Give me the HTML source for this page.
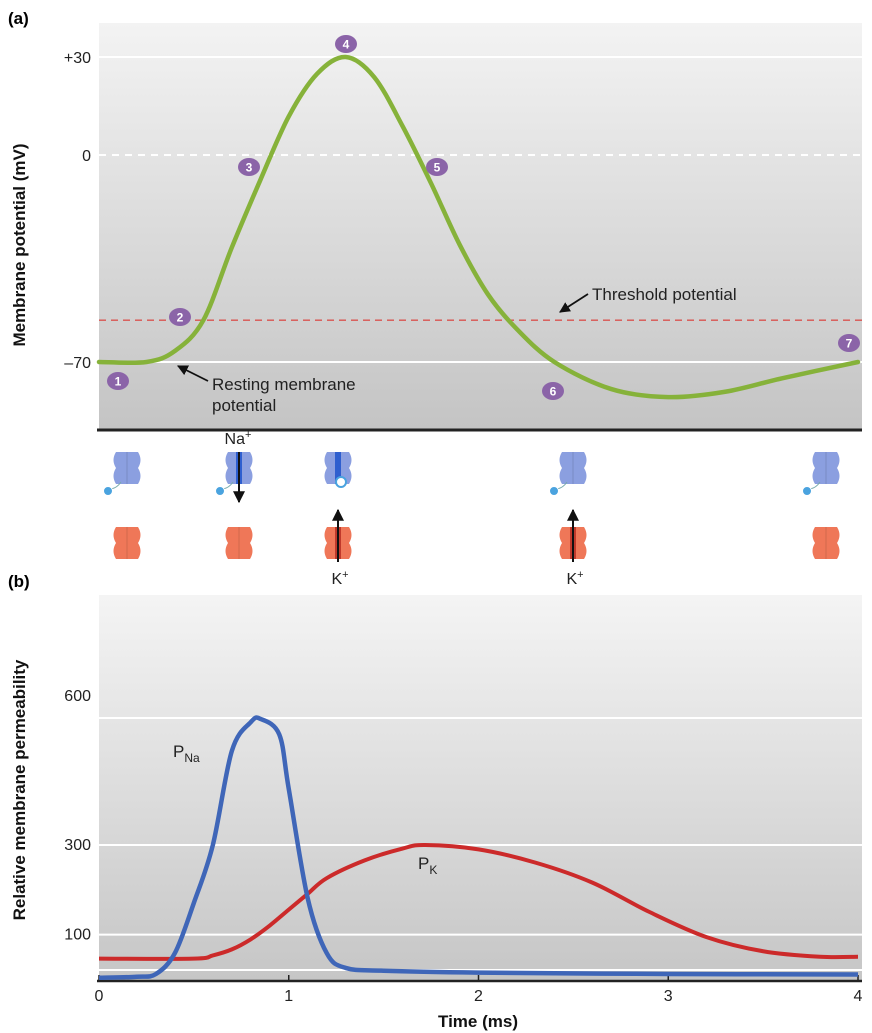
<!DOCTYPE html>
<html><head><meta charset="utf-8"><style>
html,body{margin:0;padding:0;background:#fff;}
svg{display:block;font-family:"Liberation Sans",sans-serif;}
</style></head><body>
<svg id="chart" width="872" height="1033" viewBox="0 0 872 1033">
<defs>
<linearGradient id="ga" x1="0" y1="0" x2="0" y2="1"><stop offset="0" stop-color="#f3f3f3"/><stop offset="1" stop-color="#c4c4c4"/></linearGradient>
<linearGradient id="gb" x1="0" y1="0" x2="0" y2="1"><stop offset="0" stop-color="#f4f4f4"/><stop offset="1" stop-color="#c6c6c6"/></linearGradient>
<marker id="ar" viewBox="0 0 10 10" refX="9" refY="5" markerWidth="6" markerHeight="6" orient="auto"><path d="M0,0L10,5L0,10z" fill="#111"/></marker>
</defs>
<g id="pa"></g>
<g id="ch"></g>
<g id="pb"></g>
</svg>
<script>
// Panel (a) data
const vTimes = [0, 0.25, 0.4, 0.55, 0.7, 0.85, 1.0, 1.15, 1.3, 1.45, 1.6, 1.75, 1.9, 2.05, 2.2, 2.4, 2.7, 3.0, 3.3, 3.6, 4.0];
const vValues = [-70, -70, -66, -55, -30, -8, 12, 25, 30, 24, 9, -9, -29, -46, -58, -70, -80, -83, -81, -76, -70];
const vTicks = [30, 0, -70];
const vTickLabels = ["+30", "0", "\u201370"];
const threshold = -55;
const markerNums = ["1","2","3","4","5","6","7"];
// Panel (b) data
const pTimes = [0, 0.2, 0.3, 0.4, 0.5, 0.6, 0.7, 0.8, 0.85, 0.95, 1.0, 1.1, 1.2, 1.3, 1.5, 2.0, 3.0, 4.0];
const pNa = [7, 9, 15, 60, 170, 300, 520, 590, 598, 560, 430, 180, 60, 28, 22, 18, 15, 14];
const kTimes = [0, 0.5, 0.6, 0.7, 0.8, 0.9, 1.0, 1.1, 1.2, 1.4, 1.6, 1.72, 2.0, 2.3, 2.6, 2.9, 3.2, 3.5, 3.8, 4.0];
const pK = [48, 48, 55, 68, 90, 120, 155, 190, 225, 265, 292, 300, 290, 260, 215, 150, 95, 64, 52, 52];
const pTicks = [100, 300, 600];
const xTicks = [0, 1, 2, 3, 4];

const NS = "http://www.w3.org/2000/svg";
function mk(parent, tag, attrs, text) {
  const e = document.createElementNS(NS, tag);
  for (const k in attrs) e.setAttribute(k, attrs[k]);
  if (text !== undefined) e.textContent = text;
  parent.appendChild(e);
  return e;
}
const X = t => 99 + t * 189.75;
const Ya = v => 155 - 3.174 * v - 0.0031 * v * v;
const Yb = p => 981 - 0.4683 * p + 0.00005 * p * p;
function smooth(pts) {
  let d = "M" + pts[0][0] + "," + pts[0][1];
  for (let i = 0; i < pts.length - 1; i++) {
    const p0 = pts[Math.max(0,i-1)], p1 = pts[i], p2 = pts[i+1], p3 = pts[Math.min(pts.length-1,i+2)];
    const c1 = [p1[0] + (p2[0]-p0[0])/6, p1[1] + (p2[1]-p0[1])/6];
    const c2 = [p2[0] - (p3[0]-p1[0])/6, p2[1] - (p3[1]-p1[1])/6];
    d += " C" + c1 + " " + c2 + " " + p2;
  }
  return d;
}

// ---- Panel A ----
const pa = document.getElementById("pa");
let t = mk(pa, "text", {x: 8, y: 24, "font-size": 17, "font-weight": "bold"}, "(a)");


let r = mk(pa, "rect", {x: 99, y: 23, width: 763, height: 407, fill: "url(#ga)"});


vTicks.forEach((v, i) => {
  const y = Ya(v);
  const g = mk(pa, "line", {x1: 99, x2: 862, y1: y, y2: y, stroke: "#fff", "stroke-width": 2, "stroke-dasharray": v === 0 ? "7,6" : "none"});
  
  
  const l = mk(pa, "text", {x: 91, y: y + 6, "text-anchor": "end", "font-size": 16, fill: "#222"}, vTickLabels[i]);
  
  
});
let th = mk(pa, "line", {x1: 99, x2: 862, y1: Ya(threshold), y2: Ya(threshold), stroke: "#d9534f", "stroke-width": 1.3, "stroke-dasharray": "7,5"});


let ax = mk(pa, "line", {x1: 97, x2: 862, y1: 430, y2: 430, stroke: "#222", "stroke-width": 3});


let yt = mk(pa, "text", {x: 0, y: 0, transform: "translate(25,245) rotate(-90)", "text-anchor": "middle", "font-size": 17, "font-weight": "bold", fill: "#111"}, "Membrane potential (mV)");


let vp = mk(pa, "path", {d: smooth(vTimes.map((tt, i) => [X(tt), Ya(vValues[i])])), fill: "none", stroke: "#86b23a", "stroke-width": 4.5, "stroke-linecap": "round"});


// annotations
let a1 = mk(pa, "line", {x1: 208, y1: 381, x2: 178, y2: 366, stroke: "#111", "stroke-width": 1.8, "marker-end": "url(#ar)"});


let rt = mk(pa, "text", {x: 188, y: 390, "font-size": 17, fill: "#222"});


mk(rt, "tspan", {x: 212, dy: 0}, "Resting membrane");
mk(rt, "tspan", {x: 212, dy: 21}, "potential");
let a2 = mk(pa, "line", {x1: 588, y1: 294, x2: 560, y2: 312, stroke: "#111", "stroke-width": 1.8, "marker-end": "url(#ar)"});


let tt2 = mk(pa, "text", {x: 592, y: 300, "font-size": 17, fill: "#222"}, "Threshold potential");


const markerPos = [[118,381],[180,317],[249,167],[346,44],[437,167],[553,391],[849,343]];
markerNums.forEach((n, i) => {
  const g = mk(pa, "g", {});
  
  
  mk(g, "ellipse", {cx: markerPos[i][0], cy: markerPos[i][1], rx: 11, ry: 9, fill: "#8b64a8"});
  mk(g, "text", {x: markerPos[i][0], y: markerPos[i][1] + 4.5, "text-anchor": "middle", "font-size": 12, "font-weight": "bold", fill: "#fff"}, n);
});

// ---- Channels ----
const ch = document.getElementById("ch");
function chan(cx, cy, fill, dark, name) {
  const g = mk(ch, "g", {});
  
  
  mk(g, "path", {d: `M${cx-11},${cy-16} q-5,8 0,16 q-5,8 0,16 h22 q5,-8 0,-16 q5,-8 0,-16 z`, fill: fill});
  if (dark) mk(g, "rect", {x: cx-3, y: cy-16, width: 6, height: 32, fill: dark});
  else mk(g, "line", {x1: cx, y1: cy-16, x2: cx, y2: cy+16, stroke: "rgba(0,0,0,0.12)"});
  return g;
}
const chanX = [127, 239, 338, 573, 826];
chanX.forEach((cx, i) => {
  const g = chan(cx, 468, "#8b9fe0", i === 1 || i === 2 ? "#2f5fcf" : null, "na-channel");
  if (i === 2) mk(g, "circle", {cx: cx+3, cy: 482, r: 5, fill: "#fff", stroke: "#4aa3df", "stroke-width": 2});
  else { mk(g, "path", {d: `M${cx-6},482 q-4,6 -10,7`, stroke: "#7aa", fill: "none"}); mk(g, "circle", {cx: cx-19, cy: 491, r: 4.5, fill: "#4aa3df", stroke: "#fff"}); }
  chan(cx, 543, "#ef7758", i === 2 || i === 3 ? "#c0392b" : null, "k-channel");
});
[[239,452,239,502,"na-flow-arrow"],[338,562,338,510,"k-flow-arrow"],[573,562,573,510,"k-flow-arrow"]].forEach(a => {
  const l = mk(ch, "line", {x1: a[0], y1: a[1], x2: a[2], y2: a[3], stroke: "#111", "stroke-width": 2, "marker-end": "url(#ar)"});
  
  
});
[[238,444,"Na"],[340,584,"K"],[575,584,"K"]].forEach(p => {
  const l = mk(ch, "text", {x: p[0], y: p[1], "text-anchor": "middle", "font-size": 16, fill: "#222"}, p[2]);
  mk(l, "tspan", {dy: -6, "font-size": 11}, "+");
  
  
});

// ---- Panel B ----
const pb = document.getElementById("pb");
t = mk(pb, "text", {x: 8, y: 587, "font-size": 17, "font-weight": "bold"}, "(b)");


r = mk(pb, "rect", {x: 99, y: 595, width: 763, height: 386, fill: "url(#gb)"});


const lg = mk(pb, "line", {x1: 99, x2: 862, y1: 970, y2: 970, stroke: "#fff", "stroke-width": 2});


pTicks.forEach(v => {
  const y = Yb(v);
  const g = mk(pb, "line", {x1: 99, x2: 862, y1: y, y2: y, stroke: "#fff", "stroke-width": 2});
  
  
  const l = mk(pb, "text", {x: 91, y: (v === 600 ? y - 22 : y) + 5, "text-anchor": "end", "font-size": 16, fill: "#222"}, String(v));
  
  
});
ax = mk(pb, "line", {x1: 97, x2: 862, y1: 981, y2: 981, stroke: "#222", "stroke-width": 2.5});


xTicks.forEach(v => {
  const tk = mk(pb, "line", {x1: X(v), x2: X(v), y1: 975, y2: 981, stroke: "#222", "stroke-width": 1.5});
  
  
  const l = mk(pb, "text", {x: X(v), y: 1001, "text-anchor": "middle", "font-size": 16, fill: "#222"}, String(v));
  
  
});
let xt = mk(pb, "text", {x: 478, y: 1027, "text-anchor": "middle", "font-size": 17, "font-weight": "bold", fill: "#111"}, "Time (ms)");


yt = mk(pb, "text", {x: 0, y: 0, transform: "translate(25,790) rotate(-90)", "text-anchor": "middle", "font-size": 17, "font-weight": "bold", fill: "#111"}, "Relative membrane permeability");


let kp = mk(pb, "path", {d: smooth(kTimes.map((tt, i) => [X(tt), Yb(pK[i])])), fill: "none", stroke: "#cc2a2a", "stroke-width": 4});


let np = mk(pb, "path", {d: smooth(pTimes.map((tt, i) => [X(tt), Yb(pNa[i])])), fill: "none", stroke: "#3f66b8", "stroke-width": 4.5});


[[173,757,"P","Na","pna-label"],[418,869,"P","K","pk-label"]].forEach(p => {
  const l = mk(pb, "text", {x: p[0], y: p[1], "font-size": 17, fill: "#222"}, p[2]);
  mk(l, "tspan", {dy: 5, "font-size": 12}, p[3]);
  
  
});
</script>
</body></html>
